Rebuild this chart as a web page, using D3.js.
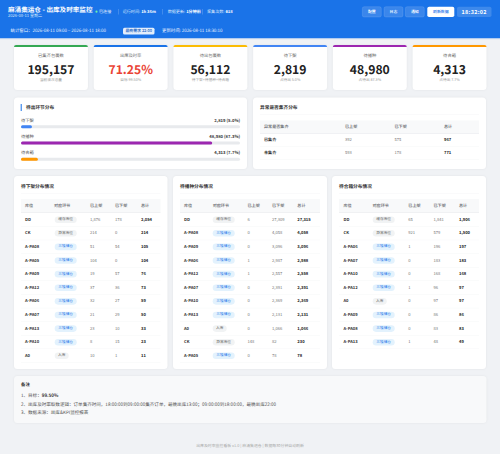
<!DOCTYPE html>
<html>
<head>
<meta charset="utf-8">
<script src="https://cdn.jsdelivr.net/npm/d3@7"></script>
<style>
html,body{margin:0;padding:0;background:#f0f2f5}
svg{display:block}
text{font-family:"Noto Sans CJK SC","Noto Sans",sans-serif;text-rendering:geometricPrecision}
</style>
</head>
<body>
<script>
// kpi cards
var kpiTitles = ["已集齐包裹数","出库及时率","待出包裹数","待下架","待播种","待合箱"];
var kpiValues = ["195,157","71.25%","56,112","2,819","48,980","4,313"];
var kpiNotes = ["当前波次总量","目标 99.50%","待下架+待播种+待合箱","占待出 5.0%","占待出 87.3%","占待出 7.7%"];
var kpiColors = ["#34a853","#1a73e8","#fbbc04","#4285f4","#9c27b0","#ff9800"];

// stage distribution
var stageNames = ["待下架","待播种","待合箱"];
var stageCounts = [2819,48980,4313];
var stagePct = [5.0,87.3,7.7];

// abnormal table
var abnHead = ["异常是否集齐","已上架","已下架","总计"];
var abnNames = ["已集齐","未集齐"];
var abnUp = [392,593];
var abnDown = [575,178];

var tableHead = ["库位","对应环节","已上架","已下架","总计"];
var tagCache = "缓存库位", tagErr = "异常库位", tagFloor = "三楼储仓", tagIn = "入库";

// 待下架
var t1Loc = ["DD","CK","A-PA08","A-PA05","A-PA09","A-PA12","A-PA06","A-PA07","A-PA13","A-PA10","A0"];
var t1Tag = [tagCache,tagErr,tagFloor,tagFloor,tagFloor,tagFloor,tagFloor,tagFloor,tagFloor,tagFloor,tagIn];
var t1Up = [1876,214,51,104,19,37,32,21,23,8,10];
var t1Down = [178,0,54,0,57,36,27,29,10,15,1];
// 待播种
var t2Loc = ["DD","A-PA08","A-PA09","A-PA06","A-PA12","A-PA07","A-PA10","A-PA13","A0","CK","A-PA05"];
var t2Tag = [tagCache,tagFloor,tagFloor,tagFloor,tagFloor,tagFloor,tagFloor,tagFloor,tagIn,tagErr,tagFloor];
var t2Up = [6,0,0,1,1,0,0,0,0,148,0];
var t2Down = [27309,4058,3096,2987,2557,2391,2369,2131,1066,82,78];
// 待合箱
var t3Loc = ["DD","CK","A-PA06","A-PA07","A-PA10","A-PA12","A0","A-PA09","A-PA08","A-PA13"];
var t3Tag = [tagCache,tagErr,tagFloor,tagFloor,tagFloor,tagFloor,tagIn,tagFloor,tagFloor,tagFloor];
var t3Up = [65,921,1,0,0,1,0,0,0,1];
var t3Down = [1841,579,196,183,168,96,97,86,83,48];

var notes = ["目标：","出库及时率取数逻辑：订单集齐时间，18:00:00到09:00:00集齐订单，最晚出库13:00；09:00:00到18:00:00，最晚出库22:00","数据来源：出库&KPI监控报表"];
var btnLabels = ["配置","日志","通知"];

var fmt = d3.format(",");
var svg = d3.select("body").append("svg").attr("width",500).attr("height",454);

function txt(g,x,y,s,size,color,weight,anchor){
  return g.append("text").attr("x",x).attr("y",y).attr("font-size",size).attr("fill",color)
    .attr("font-weight",weight||400).attr("text-anchor",anchor||"start").attr("dominant-baseline","central").text(s);
}
function card(x,y,w,h,fill){
  return svg.append("rect").attr("x",x).attr("y",y).attr("width",w).attr("height",h).attr("rx",3.5)
    .attr("fill",fill||"#fff").style("filter","drop-shadow(0 0.5px 1px rgba(0,0,0,.06))");
}

// header
svg.append("rect").attr("width",500).attr("height",38.5).attr("fill","#1a73e8");
svg.append("rect").attr("y",38.5).attr("width",500).attr("height",1).attr("fill","#dfe6f2");
txt(svg,8,9,"麻涌集运仓 - 出库及时率监控",6.6,"#fff",700);
txt(svg,8,16,"2026-08-11 星期二",4.1,"#d5e5fb");
svg.append("circle").attr("cx",96.5).attr("cy",11.7).attr("r",1.1).attr("fill","#69f0ae");
txt(svg,99,11.7,"已连接",4.1,"#e3eefd");
[[122.7,"运行时间: ","1h 36m"],[167.7,"数据更新: ","1分钟前"],[207,"采集次数: ","618"]].forEach(function(d){
  var t = txt(svg,d[0],11.7,d[1],4.1,"#dbe8fc");
  t.append("tspan").attr("font-weight",700).attr("fill","#fff").text(d[2]);
});
[118,162,202].forEach(function(x){
  svg.append("rect").attr("x",x).attr("y",9).attr("width",.4).attr("height",5.5).attr("fill","#7fb0f2");
});
txt(svg,10.5,31.2,"统计窗口：2026-08-11 09:00 ~ 2026-08-11 18:00",4.4,"#eef4fe");
svg.append("rect").attr("x",123).attr("y",27.8).attr("width",31.5).attr("height",6.8).attr("rx",1.5).attr("fill","#e3eefc");
txt(svg,138.7,31.2,"最晚需求 22:00",3.9,"#1a5fc0",500,"middle");
txt(svg,162,31.2,"更新时间: 2026-08-11 18:30:10",4.4,"#eef4fe");

[362.3,384,405.3].forEach(function(x,i){
  svg.append("rect").attr("x",x).attr("y",6.7).attr("width",19).attr("height",10.3).attr("rx",1.8)
    .attr("fill","rgba(255,255,255,.14)").attr("stroke","rgba(255,255,255,.28)").attr("stroke-width",.4);
  txt(svg,x+9.5,11.9,btnLabels[i],3.9,"#fff",500,"middle");
});
svg.append("rect").attr("x",427.3).attr("y",6.7).attr("width",27).attr("height",10.3).attr("rx",1.8).attr("fill","#fff");
txt(svg,440.8,11.9,"刷新数据",3.9,"#1a73e8",500,"middle");
svg.append("rect").attr("x",457).attr("y",6.7).attr("width",34.5).attr("height",10.3).attr("rx",1.8).attr("fill","rgba(255,255,255,.16)");
txt(svg,474.2,11.9,"18:32:02",5.4,"#fff",700,"middle").attr("letter-spacing",.35);

// kpi row
var kpiX = d3.scaleBand().domain(d3.range(6)).range([14,486.5]).paddingInner(.0728);
kpiTitles.forEach(function(t,i){
  var x = kpiX(i), w = kpiX.bandwidth(), c = x+w/2;
  card(x,45,w,45);
  svg.append("path").attr("d","M"+x+" 47 a2 2 0 0 1 2 -2 H"+(x+w-2)+" a2 2 0 0 1 2 2 Z").attr("fill",kpiColors[i]);
  txt(svg,c,55.5,t,4.3,"#666",400,"middle");
  txt(svg,c,69,kpiValues[i],12.2,i==1?"#ea4335":"#222",700,"middle");
  txt(svg,c,80.7,kpiNotes[i],3.7,"#999",400,"middle");
});

// stage distribution
card(14,97.5,233,71.5);
svg.append("rect").attr("x",20.7).attr("y",104).attr("width",1).attr("height",7).attr("fill","#1a73e8");
txt(svg,26,108,"待出环节分布",4.7,"#333",700);
var barX = d3.scaleLinear().domain([0,100]).range([21,240]);
var stageY = d3.scaleLinear().domain([0,2]).range([120.5,153]);
var stageColors = ["#4285f4","#9c27b0","#ff9800"];
stageNames.forEach(function(n,i){
  var y = stageY(i);
  txt(svg,21,y,n,4.3,"#555");
  txt(svg,240,y,fmt(stageCounts[i])+" ("+stagePct[i].toFixed(1)+"%)",4.2,"#333",700,"end");
  svg.append("rect").attr("x",barX(0)).attr("y",y+4.7).attr("width",barX(100)-barX(0)).attr("height",3).attr("rx",1.5).attr("fill","#e8eaed");
  svg.append("rect").attr("x",barX(0)).attr("y",y+4.7).attr("width",barX(stagePct[i])-barX(0)).attr("height",3).attr("rx",1.5).attr("fill",stageColors[i]);
});

// abnormal table
card(253,97.5,233,71.5);
txt(svg,260,108,"异常是否集齐分布",4.7,"#333",700);
svg.append("rect").attr("x",260).attr("y",114).attr("width",219).attr("height",.4).attr("fill","#f1f3f4");
svg.append("rect").attr("x",260).attr("y",120.5).attr("width",219).attr("height",12.8).attr("fill","#f8f9fa");
svg.append("rect").attr("x",260).attr("y",133).attr("width",219).attr("height",.6).attr("fill","#e8eaed");
var abnX = [264,345,394.5,444];
abnHead.forEach(function(h,i){ txt(svg,abnX[i],127,h,4.1,"#5f6368",500); });
var abnY = d3.scalePoint().domain(abnNames).range([140.3,153]);
abnNames.forEach(function(n,i){
  var y = abnY(n);
  txt(svg,abnX[0],y,n,4.1,"#333",700);
  txt(svg,abnX[1],y,fmt(abnUp[i]),4.1,"#777");
  txt(svg,abnX[2],y,fmt(abnDown[i]),4.1,"#777");
  txt(svg,abnX[3],y,fmt(abnUp[i]+abnDown[i]),4.1,"#222",700);
  svg.append("rect").attr("x",260).attr("y",y+6.1).attr("width",219).attr("height",.35).attr("fill","#f1f3f4");
});

// location tables
function locTable(x0,w,title,cols,tagX,locs,tags,ups,downs){
  card(x0,176,w,193);
  var tx = x0+7, tw = w-14;
  txt(svg,tx,186.7,title,4.7,"#333",700);
  svg.append("rect").attr("x",tx).attr("y",193).attr("width",tw).attr("height",.4).attr("fill","#f1f3f4");
  svg.append("rect").attr("x",tx).attr("y",199).attr("width",tw).attr("height",13.4).attr("fill","#f8f9fa");
  svg.append("rect").attr("x",tx).attr("y",212.2).attr("width",tw).attr("height",.6).attr("fill","#e8eaed");
  tableHead.forEach(function(h,i){ txt(svg,cols[i],206,h,4.1,"#5f6368",500); });
  var y = d3.scaleLinear().domain([0,10]).range([219.7,355.8]);
  locs.forEach(function(l,i){
    var yy = y(i), tag = tags[i], floor = tag==tagFloor;
    var tagW = tag==tagIn ? 14 : 22;
    txt(svg,cols[0],yy,l,4.1,"#333",700);
    svg.append("rect").attr("x",tagX).attr("y",yy-3.3).attr("width",tagW).attr("height",6.6).attr("rx",3.3)
      .attr("fill",floor?"#e3f2fd":"#f1f3f4");
    txt(svg,tagX+tagW/2,yy,tag,3.7,floor?"#1a73e8":"#666",400,"middle");
    txt(svg,cols[2],yy,fmt(ups[i]),4.1,"#777");
    txt(svg,cols[3],yy,fmt(downs[i]),4.1,"#777");
    txt(svg,cols[4],yy,fmt(ups[i]+downs[i]),4.1,"#222",700);
    svg.append("rect").attr("x",tx).attr("y",yy+6.5).attr("width",tw).attr("height",.35).attr("fill","#f1f3f4");
  });
}
locTable(14,153.5,"待下架分布情况",[25,54,90,115,141],54.7,t1Loc,t1Tag,t1Up,t1Down);
locTable(173,154,"待播种分布情况",[184,212.7,247.5,272,297.3],212.7,t2Loc,t2Tag,t2Up,t2Down);
locTable(332,154,"待合箱分布情况",[343.5,372.5,408.3,433.5,459],372.7,t3Loc,t3Tag,t3Up,t3Down);

// notes
card(14,376,472.5,47,"#f8f9fa");
txt(svg,21,385.2,"备注",4.4,"#333",700);
var n1 = txt(svg,21,396,"1、"+notes[0],4.55,"#555");
n1.append("tspan").attr("font-weight",700).attr("fill","#333").text("99.50%");
txt(svg,21,404.5,"2、"+notes[1],4.55,"#555");
txt(svg,21,413,"3、"+notes[2],4.55,"#555");

// footer
txt(svg,250,446,"出库及时率监控看板 v1.0 | 麻涌集运仓 | 数据每30分钟自动刷新",3.9,"#aaa",400,"middle");
</script>
</body>
</html>
